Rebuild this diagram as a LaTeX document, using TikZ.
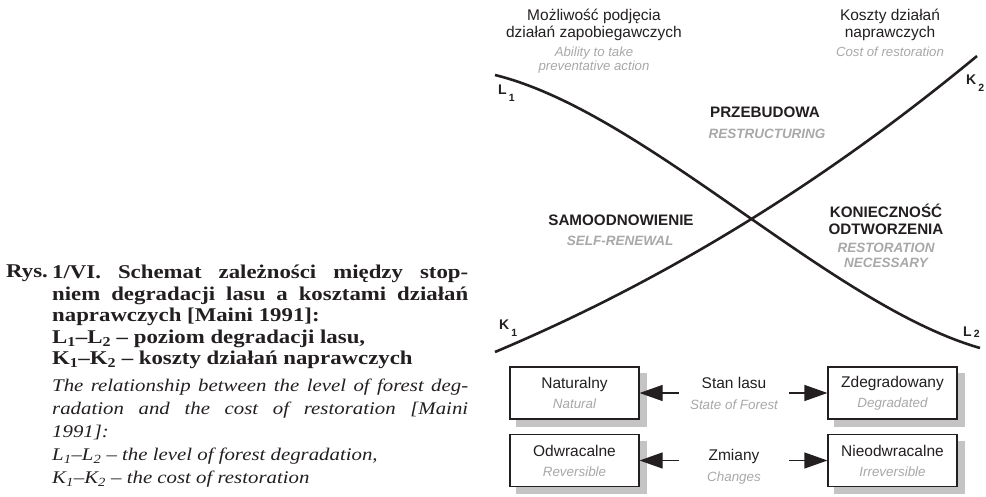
\documentclass[tikz,border=0pt]{standalone}
\usepackage{fontspec}
\setmainfont{Liberation Sans}
\newfontfamily\capfont{Liberation Serif}[FakeStretch=1.17]
\usetikzlibrary{positioning,arrows.meta,backgrounds}
\definecolor{inkblack}{RGB}{35,31,32}
\definecolor{engray}{RGB}{168,168,168}
\definecolor{shadowgray}{RGB}{196,196,196}
\newcommand{\eng}[1]{{\color{engray}\itshape\fontsize{13.4}{15}\selectfont #1}}
\newcommand{\crvsub}[2]{\kern2pt\raisebox{#1}{\fontsize{10.5}{10.5}\selectfont #2}}

\tikzset{
  curve/.style={inkblack,line width=2.6pt},
  crvlab/.style={font=\bfseries\fontsize{14}{14}\selectfont,inner sep=0pt,anchor=base west,text=inkblack},
  toplab/.style={font=\fontsize{15.5}{17}\selectfont,align=center,inner sep=0pt,text=inkblack},
  topen/.style={font=\itshape\fontsize{13.2}{13.5}\selectfont,align=center,inner sep=0pt,text=engray},
  zone/.style={font=\bfseries\fontsize{15.2}{17}\selectfont,align=center,inner sep=0pt,text=inkblack},
  zoneen/.style={font=\bfseries\itshape\fontsize{13.5}{15}\selectfont,align=center,inner sep=0pt,text=engray},
  statebox/.style={draw=inkblack,line width=1.2pt,fill=white,minimum width=129pt,minimum height=52pt,
    align=center,inner sep=0pt,text=inkblack,font=\fontsize{15.5}{20}\selectfont},
  midlab/.style={align=center,minimum width=110pt,inner sep=0pt,text=inkblack,font=\fontsize{15.5}{21}\selectfont},
  arr/.style={-{Triangle[length=23pt,width=16pt]},line width=1.2pt,inkblack},
  capbold/.style={font=\capfont\bfseries\fontsize{19.5}{21.5}\selectfont,align=left,inner sep=0pt,text=inkblack},
  capit/.style={font=\capfont\itshape\fontsize{17.8}{23}\selectfont,align=left,inner sep=0pt,text=inkblack}
}

\begin{document}
\begin{tikzpicture}[x=1pt,y=-1pt]
  \useasboundingbox (0,0) rectangle (986,497);
  % curves
  \coordinate (L1) at (495,75);
  \coordinate (L2) at (980,348);
  \coordinate (K1) at (495,352);
  \coordinate (K2) at (977,56);
  \draw[curve] (L1) .. controls (645,112) and (830,305) .. (L2);
  \draw[curve] (K1) .. controls (666,280) and (826,181) .. (K2);
  \node[crvlab] (labL1) at (498,95) {L\crvsub{-7pt}{1}};
  \node[crvlab] (labK1) at (499,330) {K\crvsub{-7pt}{1}};
  \node[crvlab] (labK2) at (966,85) {K\crvsub{-7pt}{2}};
  \node[crvlab] (labL2) at (963,337) {L\crvsub{-1pt}{2}};
  % top headings
  \node[toplab] (ablpl) at (594,25) {Możliwość podjęcia\\działań zapobiegawczych};
  \node[topen] (ablen) at (594,60) {Ability to take\\preventative action};
  \node[toplab] (costpl) at (890,25) {Koszty działań\\naprawczych};
  \node[topen] (costen) at (890,52) {Cost of restoration};
  % zones
  \node[zone] (rebuild) at (765,112) {PRZEBUDOWA};
  \node[zoneen] (rebuilden) at (767,134) {RESTRUCTURING};
  \node[zone] (selfren) at (621,220) {SAMOODNOWIENIE};
  \node[zoneen] (selfrenen) at (620,241) {SELF-RENEWAL};
  \node[zone] (restore) at (886,219) {KONIECZNOŚĆ\\ODTWORZENIA};
  \node[zoneen] (restoreen) at (886,255) {RESTORATION\\NECESSARY};
  % state boxes
  \foreach \nm/\x/\y/\pl/\en in {nat/574.5/393/Naturalny/Natural,deg/892.5/393/Zdegradowany/Degradated,
      rev/574.5/460.5/Odwracalne/Reversible,irrev/892.5/460.5/Nieodwracalne/Irreversible}
    \node[statebox] (\nm) at (\x,\y) {\pl\\\eng{\en}};
  \begin{scope}[on background layer]
    \foreach \nm in {nat,deg,rev,irrev}
      \fill[shadowgray] ([shift={(7,7)}]\nm.north west) rectangle ([shift={(7,7)}]\nm.south east);
  \end{scope}
  \node[midlab] (state) at (734,393) {Stan lasu\\\eng{State of Forest}};
  \node[midlab] (change) at (734,467) {Zmiany\\\eng{Changes}};
  \draw[arr] (nat.east -| state.west) -- (nat.east);
  \draw[arr] (deg.west -| state.east) -- (deg.west);
  \draw[arr] (rev.east -| change.west) -- (rev.east);
  \draw[arr] (irrev.west -| change.east) -- (irrev.west);
  % caption
  \node[capbold,anchor=base west] (rys) at (6,278) {Rys.};
  \node[capbold,anchor=north west] (capb) at (52,265) {\makebox[416pt][s]{1/VI. Schemat zależności między stop-}\\
    \makebox[416pt][s]{niem degradacji lasu a kosztami działań}\\
    naprawczych [Maini 1991]:\\
    L\textsubscript{1}–L\textsubscript{2} – poziom degradacji lasu,\\
    K\textsubscript{1}–K\textsubscript{2} – koszty działań naprawczych};
  \node[capit,anchor=north west] (capi) at (52,379) {\makebox[416pt][s]{The relationship between the level of forest deg-}\\
    \makebox[416pt][s]{radation and the cost of restoration [Maini}\\
    1991]:\\
    L\textsubscript{1}–L\textsubscript{2} – the level of forest degradation,\\
    K\textsubscript{1}–K\textsubscript{2} – the cost of restoration};
\end{tikzpicture}
\end{document}
